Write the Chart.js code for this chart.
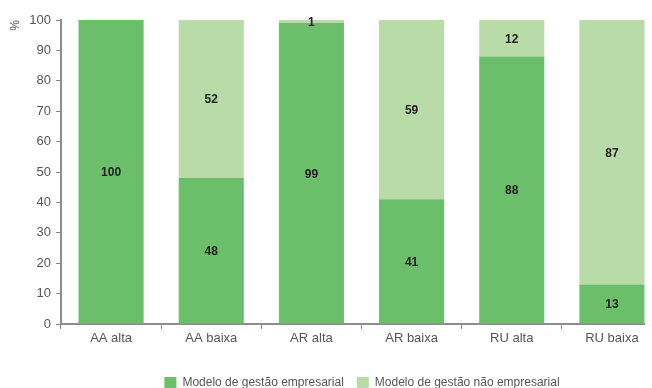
<!DOCTYPE html>
<html>
<head>
<meta charset="utf-8">
<script src="https://cdn.jsdelivr.net/npm/chart.js@4/dist/chart.umd.min.js"></script>
<style>
  html, body { margin: 0; padding: 0; background: #fff; }
  #clip { position: absolute; left: 0; top: 0; width: 645px; height: 388px; overflow: hidden; }
  #wrap { position: absolute; left: 0; top: 0; width: 724px; height: 388px; }
</style>
</head>
<body>
<div id="clip"><div id="wrap"><canvas id="c"></canvas></div></div>
<script>
const categories = ['AA alta', 'AA baixa', 'AR alta', 'AR baixa', 'RU alta', 'RU baixa'];
const empresarial = [100, 48, 99, 41, 88, 13];
const naoEmpresarial = [0, 52, 1, 59, 12, 87];
const seriesNames = ['Modelo de gestão empresarial', 'Modelo de gestão não empresarial'];
const yTicks = [0, 10, 20, 30, 40, 50, 60, 70, 80, 90, 100];

const FONT = "'Liberation Sans', Arial, sans-serif";

// Writes each segment's value in the middle of its bar piece
const segmentLabels = {
  id: 'segmentLabels',
  afterDatasetsDraw(chart) {
    const ctx = chart.ctx;
    ctx.save();
    ctx.font = "bold 12px " + FONT;
    ctx.fillStyle = '#222';
    ctx.textAlign = 'center';
    ctx.textBaseline = 'middle';
    chart.data.datasets.forEach((ds, di) => {
      const meta = chart.getDatasetMeta(di);
      meta.data.forEach((bar, i) => {
        const v = ds.data[i];
        if (!v) return;
        const yMid = (bar.y + bar.base) / 2 + 1;
        ctx.fillText(String(v), bar.x, yMid);
      });
    });
    ctx.restore();
  }
};

new Chart(document.getElementById('c'), {
  type: 'bar',
  data: {
    labels: categories,
    datasets: [
      { label: seriesNames[0], data: empresarial, backgroundColor: '#6bbf6a' },
      { label: seriesNames[1], data: naoEmpresarial, backgroundColor: '#b8dba8' }
    ]
  },
  options: {
    responsive: true,
    maintainAspectRatio: false,
    animation: false,
    layout: { padding: { left: 0, right: 0, top: 20, bottom: -11 } },
    datasets: { bar: { barPercentage: 0.65, categoryPercentage: 1 } },
    scales: {
      x: {
        stacked: true,
        afterFit(scale) { scale.height = 40; },
        grid: { display: true, drawOnChartArea: false, offset: true, tickLength: 5, color: '#888' },
        border: { color: '#8c8c8c', width: 2 },
        ticks: { color: '#555', font: { family: FONT, size: 13 }, padding: 2 }
      },
      y: {
        stacked: true,
        min: 0, max: 100,
        afterFit(scale) { scale.width = 61; },
        afterBuildTicks(scale) { scale.ticks = yTicks.map(v => ({ value: v })); },
        grid: { display: true, drawOnChartArea: false, tickLength: 5, color: '#888' },
        border: { color: '#8c8c8c', width: 2 },
        ticks: { color: '#555', font: { family: FONT, size: 13 }, padding: 5 },
        title: { display: true, text: '%', align: 'end', color: '#555', font: { family: FONT, size: 12 }, padding: { top: 8, bottom: 0 } }
      },
      spacer: {
        type: 'linear',
        position: 'right',
        afterFit(scale) { scale.width = 62; },
        grid: { display: false },
        border: { display: false },
        ticks: { display: false }
      }
    },
    plugins: {
      legend: {
        position: 'bottom',
        labels: { boxWidth: 12, boxHeight: 12, color: '#555', font: { family: FONT, size: 12 }, padding: 13 }
      },
      tooltip: { enabled: false }
    }
  },
  plugins: [segmentLabels]
});
</script>
</body>
</html>
